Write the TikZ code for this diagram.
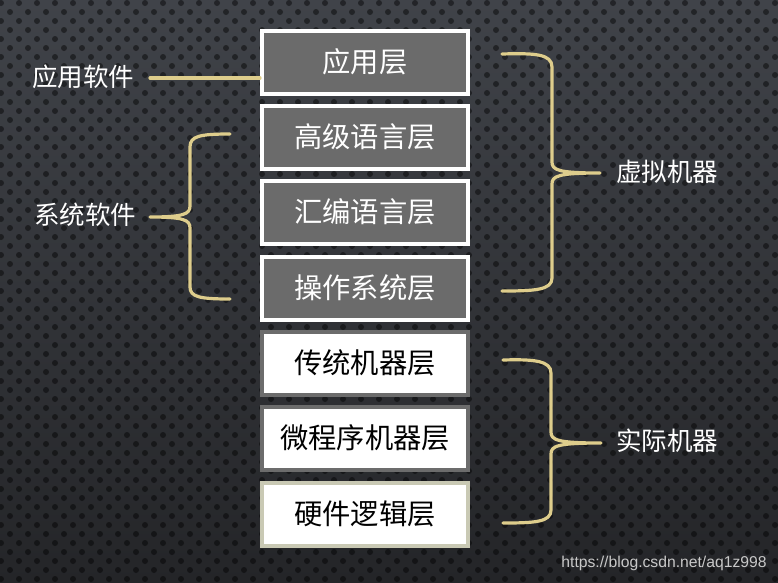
\documentclass[tikz,border=0pt]{standalone}
\usepackage{fontspec}
\newfontfamily\cjk{Noto Sans CJK SC}
\newfontfamily\wmfont{Liberation Sans}
\definecolor{bgtop}{RGB}{64,67,73}
\definecolor{bgbot}{RGB}{36,37,40}
\definecolor{khaki}{RGB}{222,205,140}
\definecolor{darkfill}{RGB}{107,107,107}
\definecolor{grayborder}{RGB}{108,108,108}
\definecolor{paleborder}{RGB}{201,201,180}
\definecolor{wmcolor}{RGB}{200,200,200}
\tikzset{
  layerbox/.style={rectangle, inner sep=0pt, minimum width=206pt, minimum height=63pt, line width=4pt,
    font=\cjk\fontsize{28.3}{28.3}\selectfont},
  virtbox/.style={layerbox, draw=white, fill=darkfill, text=white},
  realbox/.style={layerbox, draw=grayborder, fill=white, text=black},
  basebox/.style={layerbox, draw=paleborder, fill=white, text=black},
  sidelabel/.style={text=white, inner sep=0pt, font=\cjk\fontsize{25.5}{25.5}\selectfont},
  link/.style={draw=khaki, line width=3.2pt, line cap=round, line join=round},
}
\begin{document}
\begin{tikzpicture}[x=1pt,y=-1pt]
\useasboundingbox (0,0) rectangle (778,582);
% background
\shade[top color=bgtop, bottom color=bgbot] (0,0) rectangle (778,582);
\fill[black,opacity=0.45]
  \foreach \r in {0,...,65} {
    \foreach \c in {0,...,44} {
      ({\c*18 + mod(\r,2)*9 + 1}, {\r*9 + 3}) circle (3)
    }
  };
% layer boxes
\node[virtbox] (b1) at (365,62)  {应用层};
\node[virtbox] (b2) at (365,137) {高级语言层};
\node[virtbox] (b3) at (365,212) {汇编语言层};
\node[virtbox] (b4) at (365,288) {操作系统层};
\node[realbox] (b5) at (365,363) {传统机器层};
\node[realbox] (b6) at (365,438) {微程序机器层};
\node[basebox] (b7) at (365,514) {硬件逻辑层};
% side labels
\node[sidelabel] (app)  at (83,77)   {应用软件};
\node[sidelabel] (sys)  at (85,215)  {系统软件};
\node[sidelabel] (virt) at (667,172) {虚拟机器};
\node[sidelabel] (real) at (667,441) {实际机器};
% application software connector
\coordinate (appl) at (150,78);
\draw[link] (appl) -- (b1.west |- appl);
% system software brace
\coordinate (sysT) at (230,134);
\coordinate (sysM) at (150,217);
\coordinate (sysB) at (230,299);
\draw[link] (sysT) .. controls (200,134) and (190,136) .. (190,147) -- (190,206)
  .. controls (190,214) and (184,217) .. (sysM)
  .. controls (184,217) and (190,220) .. (190,228) -- (190,287)
  .. controls (190,297) and (200,299) .. (sysB);
% virtual machine brace
\coordinate (virT) at (502,54);
\coordinate (virM) at (600,173);
\coordinate (virB) at (502,291);
\draw[link] (virT) .. controls (535,53) and (552,54) .. (552,67) -- (552,162)
  .. controls (552,170) and (558,173) .. (virM)
  .. controls (558,173) and (552,176) .. (552,184) -- (552,278)
  .. controls (552,290) and (535,291) .. (virB);
% real machine brace
\coordinate (reaT) at (503,360);
\coordinate (reaM) at (601,443);
\coordinate (reaB) at (503,523);
\draw[link] (reaT) .. controls (535,359) and (551,361) .. (551,373) -- (551,432)
  .. controls (551,440) and (557,443) .. (reaM)
  .. controls (557,443) and (551,446) .. (551,454) -- (551,510)
  .. controls (551,522) and (535,523) .. (reaB);
% watermark
\node[text=wmcolor, inner sep=0pt, font=\wmfont\fontsize{15.7}{15.7}\selectfont] (wm) at (664,563) {https://blog.csdn.net/aq1z998};
\end{tikzpicture}
\end{document}
